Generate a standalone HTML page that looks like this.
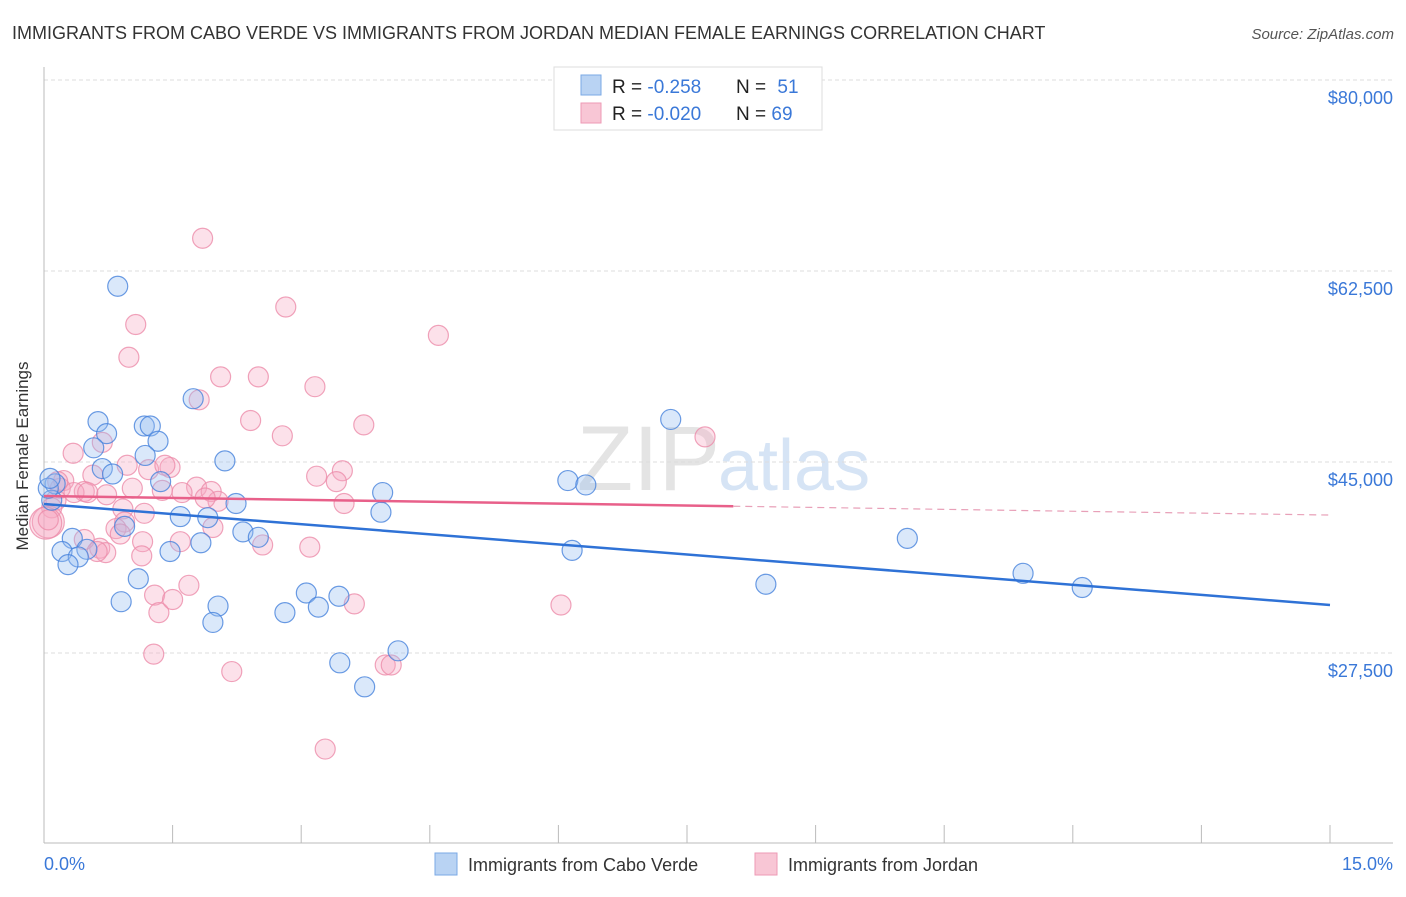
<!DOCTYPE html>
<html><head><meta charset="utf-8"><style>
body{margin:0;background:#fff;font-family:"Liberation Sans",sans-serif;}
svg text{font-family:"Liberation Sans",sans-serif;}
</style></head><body>
<svg id="chart" width="1406" height="892" xmlns="http://www.w3.org/2000/svg">
<text x="12" y="39" font-size="18" fill="#333">IMMIGRANTS FROM CABO VERDE VS IMMIGRANTS FROM JORDAN MEDIAN FEMALE EARNINGS CORRELATION CHART</text>
<text x="1394" y="39" font-size="15" fill="#555" font-style="italic" text-anchor="end">Source: ZipAtlas.com</text>
<text x="720" y="490" font-size="92" fill="#e4e4e4" text-anchor="end" font-family="Liberation Serif">ZIP</text>
<text x="718" y="490" font-size="72" fill="#d6e4f5">atlas</text>
<g id="grid"></g>
<line x1="44" y1="67" x2="44" y2="843" stroke="#bbb"/>
<line x1="44" y1="843" x2="1393" y2="843" stroke="#bbb"/>
<g id="xticks"></g>
<text x="28" y="456" font-size="17" fill="#333" text-anchor="middle" transform="rotate(-90 28 456)">Median Female Earnings</text>
<text x="44" y="870" font-size="18" fill="#3a78d8">0.0%</text>
<text x="1393" y="870" font-size="18" fill="#3a78d8" text-anchor="end">15.0%</text>
<g id="pink"></g><g id="blue"></g><g id="trends"></g>
<g>
<rect x="554" y="67" width="268" height="63" fill="#fff" stroke="#ddd"/>
<rect x="581" y="75" width="20" height="20" fill="#b9d3f3" stroke="#7aa8e6"/>
<rect x="581" y="103" width="20" height="20" fill="#f8c6d5" stroke="#ee9ab5"/>
<text x="612" y="93" font-size="19" fill="#222">R = <tspan fill="#3a78d8">-0.258</tspan></text>
<text x="736" y="93" font-size="19" fill="#222">N = <tspan fill="#3a78d8" dx="6">51</tspan></text>
<text x="612" y="120" font-size="19" fill="#222">R = <tspan fill="#3a78d8">-0.020</tspan></text>
<text x="736" y="120" font-size="19" fill="#222">N = <tspan fill="#3a78d8">69</tspan></text>
</g>
<g>
<rect x="435" y="853" width="22" height="22" fill="#b9d3f3" stroke="#7aa8e6"/>
<text x="468" y="871" font-size="18" fill="#333">Immigrants from Cabo Verde</text>
<rect x="755" y="853" width="22" height="22" fill="#f8c6d5" stroke="#ee9ab5"/>
<text x="788" y="871" font-size="18" fill="#333">Immigrants from Jordan</text>
</g>
</svg>
<script>
const yTicks=[80000,62500,45000,27500];
const yTickLabels=["$80,000","$62,500","$45,000","$27,500"];
const xTickCount=10;
const blueX=[0.86,0.63,0.73,0.58,1.17,1.24,1.33,1.18,0.68,0.80,1.74,2.11,1.36,2.24,1.59,1.91,0.94,2.32,2.50,1.83,1.47,0.13,0.09,0.05,0.33,0.50,0.21,0.40,0.28,1.10,0.90,2.03,1.97,3.06,2.81,3.20,3.44,3.45,3.74,4.13,3.95,3.93,6.11,6.32,6.16,7.31,8.42,10.07,11.42,12.11,0.07];
const blueY=[61.1,48.7,47.6,46.3,48.3,48.3,46.9,45.6,44.4,43.9,50.8,45.1,43.2,41.2,40.0,39.9,39.1,38.6,38.1,37.6,36.8,43.0,41.5,42.6,38.0,37.0,36.8,36.3,35.6,34.3,32.2,31.8,30.3,33.0,31.2,31.7,32.7,26.6,24.4,27.7,42.2,40.4,43.3,42.9,36.9,48.9,33.8,38.0,34.8,33.5,43.5];
const pinkX=[1.85,2.82,1.07,0.99,4.60,2.06,2.50,3.16,1.81,2.41,3.73,2.78,7.71,0.68,0.34,0.97,1.47,1.22,0.57,0.23,0.19,0.47,0.73,1.03,1.78,1.95,1.61,1.38,2.03,1.17,0.92,0.94,3.18,3.48,3.41,3.50,0.14,0.35,0.09,0.05,0.02,0.65,0.72,0.47,0.62,1.15,1.14,1.59,1.97,2.55,3.10,0.84,1.69,1.29,1.34,1.50,1.28,2.19,3.62,6.03,3.98,4.05,3.28,0.16,0.51,0.89,1.88,1.41,0.05];
const pinkY=[65.5,59.2,57.6,54.6,56.6,52.8,52.8,51.9,50.7,48.8,48.4,47.4,47.3,46.8,45.8,44.7,44.5,44.3,43.8,43.3,42.6,42.3,42.0,42.6,42.7,42.3,42.2,42.4,41.4,40.3,40.7,39.5,43.7,44.2,43.2,41.2,41.5,42.2,40.8,39.5,39.4,37.1,36.7,37.9,36.8,37.7,36.4,37.7,39.0,37.4,37.2,38.9,33.7,32.8,31.2,32.4,27.4,25.8,32.0,31.9,26.4,26.4,18.7,43.2,42.2,38.4,41.7,44.7,39.7];
const blueTrend=[41.15,31.9];
const pinkTrend=[41.88,40.14];
const pinkSolidEnd=8.04;

const NS="http://www.w3.org/2000/svg";
function X(p){return 44+p*(1286/15);}
function Y(v){return 80+(80000-v)*(191/17500);}
function Yk(k){return Y(k*1000);}
function mk(t,a,parent){const e=document.createElementNS(NS,t);for(const k in a)e.setAttribute(k,a[k]);parent.appendChild(e);return e;}
const grid=document.getElementById('grid');
yTicks.forEach((v,i)=>{
  const l=mk('line',{x1:44,x2:1393,y1:Y(v),y2:Y(v),stroke:'#ddd','stroke-dasharray':'4,3'},grid);
  
  
  const t=mk('text',{x:1393,y:Y(v)+24,'font-size':18,fill:'#3a78d8','text-anchor':'end'},grid);
  t.textContent=yTickLabels[i];
  
  
});
const xt=document.getElementById('xticks');
for(let i=0;i<=xTickCount;i++){
  const l=mk('line',{x1:X(i*1.5),x2:X(i*1.5),y1:825,y2:843,stroke:'#bbb'},xt);
  
  
}
const pg=document.getElementById('pink');
pinkX.forEach((x,i)=>{
  const big=(i===39||i===40);
  const c=mk('circle',{cx:X(x),cy:Yk(pinkY[i]),r:big?16:10,fill:'rgba(246,170,195,0.35)',stroke:'rgba(236,140,170,0.8)','stroke-width':1.2},pg);
  
  
});
const bg=document.getElementById('blue');
blueX.forEach((x,i)=>{
  const c=mk('circle',{cx:X(x),cy:Yk(blueY[i]),r:10,fill:'rgba(150,190,240,0.35)',stroke:'rgba(70,130,220,0.8)','stroke-width':1.2},bg);
  
  
});
const tg=document.getElementById('trends');
const bl=mk('line',{x1:X(0),y1:Yk(blueTrend[0]),x2:X(15),y2:Yk(blueTrend[1]),stroke:'#2f72d6','stroke-width':2.5},tg);


const pm=pinkTrend[0]+(pinkTrend[1]-pinkTrend[0])*pinkSolidEnd/15;
const pl=mk('line',{x1:X(0),y1:Yk(pinkTrend[0]),x2:X(pinkSolidEnd),y2:Yk(pm),stroke:'#e8608a','stroke-width':2.5},tg);


const pd=mk('line',{x1:X(pinkSolidEnd),y1:Yk(pm),x2:X(15),y2:Yk(pinkTrend[1]),stroke:'#e8a0b8','stroke-width':1.2,'stroke-dasharray':'7,5'},tg);


</script>
</body></html>
